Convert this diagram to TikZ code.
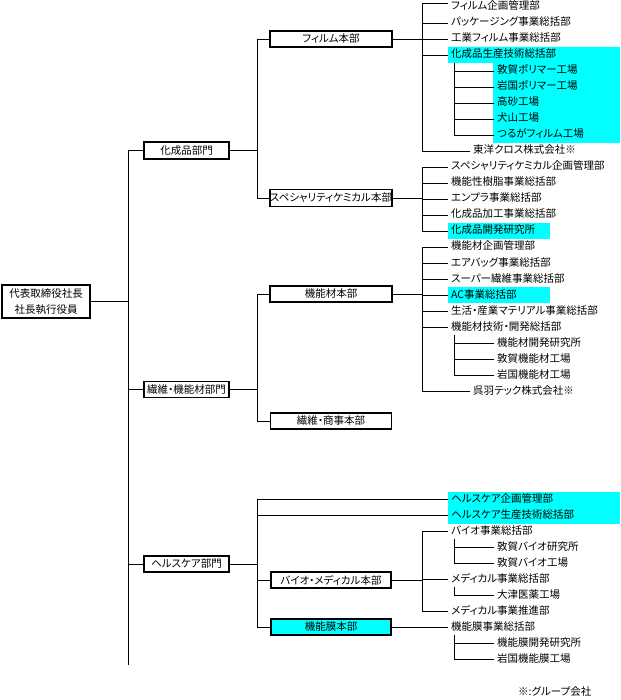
\documentclass[tikz,border=0pt]{standalone}
\usepackage{fontspec}
\setmainfont{Noto Sans CJK JP}[RawFeature={+palt}]
\definecolor{cyanbg}{HTML}{00FFFF}
\begin{document}
\begin{tikzpicture}[x=1pt,y=-1pt,
  every node/.style={font=\fontsize{10.5}{16}\selectfont},
  unit/.style={draw, line width=1.6pt, inner sep=0pt, minimum height=16pt, align=center},
  item/.style={anchor=west, inner xsep=3pt, inner ysep=0pt, minimum height=16pt, text height=8pt, text depth=2pt},
  conn/.style={line width=0.9pt}
]
\useasboundingbox (0,0) rectangle (620,700);
% cyan backgrounds
\fill[cyanbg] (448,47) -- (620,47) -- (620,143) -- (493,143) -- (493,63) -- (448,63) -- cycle;
\fill[cyanbg] (448,223) rectangle (550,239);
\fill[cyanbg] (448,287) rectangle (550,303);
\fill[cyanbg] (448,492) rectangle (620,524);

% units
\node[unit, minimum width=88pt, minimum height=33pt] (root) at (46,301.5) {代表取締役社長\\社長執行役員};
\node[unit, minimum width=85pt, minimum height=17pt] (kasei) at (186.5,150.5) {化成品部門};
\node[unit, minimum width=85pt] (sen) at (186.5,389.5) {繊維・機能材部門};
\node[unit, minimum width=85pt] (hc) at (186.5,564) {ヘルスケア部門};
\node[unit, minimum width=122pt] (film) at (331,39) {フィルム本部};
\node[unit, minimum width=122pt, minimum height=17pt] (spec) at (331,198) {スペシャリティケミカル本部};
\node[unit, minimum width=122pt] (kinou) at (331,294) {機能材本部};
\node[unit, minimum width=121pt] (shouji) at (331,421) {繊維・商事本部};
\node[unit, minimum width=120pt] (bio) at (331,580) {バイオ・メディカル本部};
\node[unit, minimum width=120pt, fill=cyanbg] (maku) at (331,627) {機能膜本部};

% film items
\node[item] (f0) at (448,7) {フィルム企画管理部};
\node[item] (f1) at (448,23) {パッケージング事業総括部};
\node[item] (f2) at (448,39) {工業フィルム事業総括部};
\node[item] (f3) at (448,55) {化成品生産技術総括部};
\node[item] (f4) at (494,71) {敦賀ポリマー工場};
\node[item] (f5) at (494,87) {岩国ポリマー工場};
\node[item] (f6) at (494,103) {高砂工場};
\node[item] (f7) at (494,119) {犬山工場};
\node[item] (f8) at (494,135) {つるがフィルム工場};
\node[item] (f9) at (470,151) {東洋クロス株式会社※};
% specialty
\node[item] (s10) at (448,167) {スペシャリティケミカル企画管理部};
\node[item] (s11) at (448,183) {機能性樹脂事業総括部};
\node[item] (s12) at (448,199) {エンプラ事業総括部};
\node[item] (s13) at (448,215) {化成品加工事業総括部};
\node[item] (s14) at (448,231) {化成品開発研究所};
% kinou
\node[item] (k15) at (448,247) {機能材企画管理部};
\node[item] (k16) at (448,263) {エアバッグ事業総括部};
\node[item] (k17) at (448,279) {スーパー繊維事業総括部};
\node[item] (k18) at (448,295) {AC事業総括部};
\node[item] (k19) at (448,311) {生活・産業マテリアル事業総括部};
\node[item] (k20) at (448,327) {機能材技術・開発総括部};
\node[item] (k21) at (494,343) {機能材開発研究所};
\node[item] (k22) at (494,359) {敦賀機能材工場};
\node[item] (k23) at (494,375) {岩国機能材工場};
\node[item] (k24) at (470,391) {呉羽テック株式会社※};
% health
\node[item] (h0) at (448,499) {ヘルスケア企画管理部};
\node[item] (h1) at (448,515) {ヘルスケア生産技術総括部};
\node[item] (h2) at (448,531) {バイオ事業総括部};
\node[item] (h3) at (494,547) {敦賀バイオ研究所};
\node[item] (h4) at (494,563) {敦賀バイオ工場};
\node[item] (h5) at (448,579) {メディカル事業総括部};
\node[item] (h6) at (494,595) {大津医薬工場};
\node[item] (h7) at (448,611) {メディカル事業推進部};
\node[item] (h8) at (448,627) {機能膜事業総括部};
\node[item] (h9) at (494,643) {機能膜開発研究所};
\node[item] (h10) at (494,659) {岩国機能膜工場};
\node[anchor=west, inner sep=0pt] (note) at (518,692) {※:グループ会社};

% bus coordinates
\coordinate (tr) at (128,665);
\coordinate (b1) at (257,0);
\coordinate (b2) at (422,0);
\coordinate (f0c) at ([yshift=3.5pt]f0.west);
\coordinate (f3s) at ([xshift=6pt]f3.south west);
\coordinate (k20s) at ([xshift=6pt]k20.south west);
\coordinate (h2s) at ([xshift=6pt]h2.south west);
\coordinate (h5s) at ([xshift=6pt]h5.south west);
\coordinate (h8s) at ([xshift=6pt]h8.south west);

\begin{scope}[conn]
% trunk
\draw (kasei.west) -| (tr);
\draw (root.east) -- (root.east -| tr);
\draw (sen.west) -- (sen.west -| tr);
\draw (hc.west) -- (hc.west -| tr);
% kasei division
\draw (kasei.east) -- (kasei.east -| b1);
\draw (film.west) -| (b1 |- spec.west) -- (spec.west);
% film
\draw (film.east) -- (film.east -| b2);
\draw (f0c) -| (b2 |- f9.west) -- (f9.west);
\foreach \n in {f1,f2,f3} \draw (b2 |- \n.west) -- (\n.west);
\draw (f3s) |- (f8.west);
\foreach \n in {f4,f5,f6,f7} \draw (f3s |- \n.west) -- (\n.west);
% spec
\draw (spec.east) -- (spec.east -| b2);
\draw (s10.west) -| (b2 |- s14.west) -- (s14.west);
\foreach \n in {s11,s12,s13} \draw (b2 |- \n.west) -- (\n.west);
% sen division
\draw (sen.east) -- (sen.east -| b1);
\draw (kinou.west) -| (b1 |- shouji.west) -- (shouji.west);
% kinou
\draw (kinou.east) -- (kinou.east -| b2);
\draw (k15.west) -| (b2 |- k24.west) -- (k24.west);
\foreach \n in {k16,k17,k18,k19,k20} \draw (b2 |- \n.west) -- (\n.west);
\draw (k20s) |- (k23.west);
\foreach \n in {k21,k22} \draw (k20s |- \n.west) -- (\n.west);
% health division
\draw (hc.east) -- (hc.east -| b1);
\draw (h0.west) -| (b1 |- maku.west) -- (maku.west);
\draw (b1 |- h1.west) -- (h1.west);
\draw (b1 |- bio.west) -- (bio.west);
% bio
\draw (bio.east) -- (bio.east -| b2);
\draw (h2.west) -| (b2 |- h7.west) -- (h7.west);
\draw (b2 |- h5.west) -- (h5.west);
\draw (h2s) |- (h4.west);
\draw (h2s |- h3.west) -- (h3.west);
\draw (h5s) |- (h6.west);
% maku
\draw (maku.east) -- (h8.west);
\draw (h8s) |- (h10.west);
\draw (h8s |- h9.west) -- (h9.west);
\end{scope}
\end{tikzpicture}
\end{document}
